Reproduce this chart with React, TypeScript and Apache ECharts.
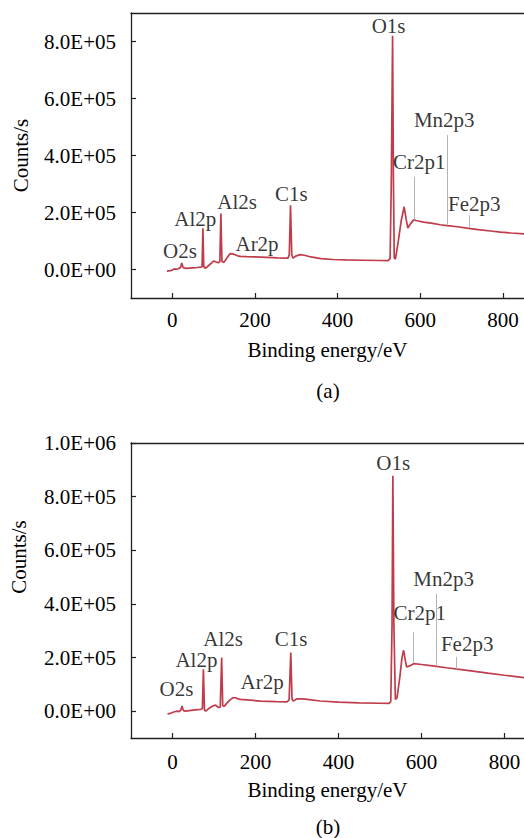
import React, { useEffect, useRef } from "react";
import * as echarts from "echarts";

const FONT = "'Liberation Serif', 'Times New Roman', serif";

const xTicks = [0, 200, 400, 600, 800];
const yTicksA = [0, 2e5, 4e5, 6e5, 8e5];
const yTicksB = [0, 2e5, 4e5, 6e5, 8e5, 1e6];

const spectrumA: [number, number][] = [
  [-13, -6000], [-5, -4000], [0, -2000], [5, 2000], [10, 1000], [15, 2500], [20, 8000],
  [23, 23000], [26, 7000], [32, 4000], [40, 5000], [50, 6000], [60, 7000], [68, 8000],
  [72, 10000], [74, 145000], [76, 11000], [80, 4000], [88, 14000], [96, 24000], [100, 30000],
  [106, 26000], [112, 24000], [115, 28000], [117.5, 196000], [120, 28000], [125, 25000],
  [132, 40000], [140, 56000], [146, 55000], [152, 52000], [158, 48000], [165, 46000],
  [180, 45000], [200, 44000], [229, 42500], [255, 41000], [280, 40000], [283, 52000],
  [286, 225000], [289, 52000], [292, 40000], [300, 48000], [310, 52000], [320, 50000],
  [335, 44000], [360, 38000], [390, 35000], [420, 33500], [460, 32500], [500, 31500],
  [522, 31000], [527, 38000], [530, 320000], [533, 820000], [535, 320000], [537, 40000],
  [540, 37000], [547, 101000], [554, 172000], [561, 220000], [566, 175000], [570, 145000],
  [576, 160000], [584, 174000], [592, 171000], [608, 166000], [630, 162000], [648, 157000],
  [665, 154000], [690, 150000], [713, 145000], [740, 140000], [770, 135000], [794, 131000],
  [820, 128000], [851, 125000],
];

const spectrumB: [number, number][] = [
  [-12, -10000], [-5, -8000], [0, -5000], [5, -2000], [11, 0], [16, -2000], [20, 4000],
  [23, 19000], [26, 3000], [31, 0], [40, 2000], [50, 4000], [60, 6000], [68, 7000],
  [72, 9000], [74.5, 156000], [77, 5000], [80, 0], [86, 8000], [92, 15000], [98, 20000],
  [104, 22500], [110, 14000], [115, 15000], [118.5, 200000], [121, 20000], [125, 19000],
  [132, 32000], [140, 44000], [146, 50000], [152, 50000], [158, 46000], [164, 44000],
  [180, 42000], [212, 37500], [250, 36000], [276, 35000], [281, 42000], [285, 219000],
  [288, 45000], [291, 37500], [300, 46000], [312, 46000], [325, 44000], [356, 38000],
  [400, 34000], [450, 31000], [500, 29500], [522, 29000], [526, 36000], [529, 320000],
  [531, 877500], [533.5, 320000], [537, 44000], [541, 50000], [548, 130000], [553, 200000],
  [557, 227000], [561, 190000], [564, 165000], [570, 168000], [581, 177000], [600, 174000],
  [627, 169000], [660, 162000], [710, 152500], [760, 142000], [800, 134000], [847, 125000],
];

const peakNames = ["O2s", "Al2p", "Al2s", "Ar2p", "C1s", "O1s", "Cr2p1", "Mn2p3", "Fe2p3"];
const labelPosA: [number, number][] = [
  [18.6, 66000], [55.6, 178000], [157, 238000], [205, 89800], [288, 266500],
  [523.3, 855000], [597.6, 378000], [658, 525500], [730.7, 231000],
];
const labelPosB: [number, number][] = [
  [9.6, 81000], [57.6, 191000], [122, 270000], [216, 110000], [286, 269000],
  [532, 927000], [596, 365000], [653.5, 494000], [710, 250000],
];

// [energy, lower count, upper count] for the grey marker lines (Cr2p1, Mn2p3, Fe2p3)
const markersA: [number, number, number][] = [
  [586, 174000, 325000], [666, 157000, 472000], [718, 147000, 190000],
];
const markersB: [number, number, number][] = [
  [581, 181000, 294000], [635, 169000, 437500], [683, 156000, 202500],
];

function sci(v: number): string {
  if (v === 0) return "0.0E+00";
  const e = Math.floor(Math.log10(Math.abs(v)) + 1e-9);
  const m = v / Math.pow(10, e);
  return `${m.toFixed(1)}E+${String(e).padStart(2, "0")}`;
}

const axisColor = "#222";
const textStyle = { fontFamily: FONT, fontSize: 21, color: "#000" };

function makeX(gridIndex: number, max: number, margin: number) {
  return [
    {
      type: "value",
      gridIndex,
      position: "bottom",
      min: -100,
      max,
      axisLine: { show: true, onZero: false, lineStyle: { color: axisColor, width: 1.3 } },
      axisTick: { show: true, inside: true, length: 5, customValues: xTicks, lineStyle: { color: axisColor, width: 1.2 } },
      axisLabel: { show: true, customValues: xTicks, margin, ...textStyle },
      splitLine: { show: false },
      name: "Binding energy/eV",
      nameLocation: "middle",
      nameGap: 41,
      nameTextStyle: { ...textStyle },
    },
    {
      type: "value",
      gridIndex,
      position: "top",
      min: -100,
      max,
      axisLine: { show: true, onZero: false, lineStyle: { color: axisColor, width: 1.3 } },
      axisTick: { show: false },
      axisLabel: { show: false },
      splitLine: { show: false },
    },
  ];
}

function makeY(gridIndex: number, max: number, ticks: number[], name: string) {
  return {
    type: "value",
    gridIndex,
    min: -1e5,
    max,
    axisLine: { show: true, onZero: false, lineStyle: { color: axisColor, width: 1.3 } },
    axisTick: { show: true, inside: true, length: 5, customValues: ticks, lineStyle: { color: axisColor, width: 1.2 } },
    axisLabel: { show: true, customValues: ticks, margin: 15, formatter: (v: number) => sci(v), ...textStyle },
    splitLine: { show: false },
    name,
    nameLocation: "middle",
    nameGap: 100,
    nameRotate: 90,
    nameTextStyle: { ...textStyle },
  };
}

function seriesFor(idx: number, xIdx: number, spectrum: [number, number][], labels: [number, number][], markers: [number, number, number][]) {
  return [
    {
      type: "line",
      xAxisIndex: xIdx,
      yAxisIndex: idx,
      data: [],
      silent: true,
      z: 1,
      markLine: {
        silent: true,
        symbol: ["none", "none"],
        label: { show: false },
        lineStyle: { color: "#b4b4b4", width: 1, type: "solid" },
        data: markers.map(([x, y0, y1]) => [{ coord: [x, y0] }, { coord: [x, y1] }]),
      },
    },
    {
      type: "line",
      xAxisIndex: xIdx,
      yAxisIndex: idx,
      data: spectrum,
      showSymbol: false,
      symbol: "none",
      silent: true,
      z: 3,
      lineStyle: { color: "#c03c4a", width: 1.7 },
    },
    {
      type: "scatter",
      xAxisIndex: xIdx,
      yAxisIndex: idx,
      symbolSize: 1,
      silent: true,
      z: 4,
      itemStyle: { color: "transparent" },
      data: peakNames.map((n, i) => ({ name: n, value: labels[i] })),
      label: { show: true, position: "inside", formatter: "{b}", ...textStyle },
    },
  ];
}

export default function App() {
  const ref = useRef<HTMLDivElement>(null);
  useEffect(() => {
    if (!ref.current) return;
    const chart = echarts.init(ref.current, undefined, { renderer: "svg" });
    chart.setOption({
      animation: false,
      backgroundColor: "#ffffff",
      grid: [
        { left: 131, top: 13, width: 393, height: 285 },
        { left: 131, top: 443, width: 393, height: 295 },
      ],
      xAxis: [...makeX(0, 851, 11), ...makeX(1, 847, 13)],
      yAxis: [makeY(0, 9e5, yTicksA, "Counts/s"), makeY(1, 1e6, yTicksB, "")],
      series: [...seriesFor(0, 0, spectrumA, labelPosA, markersA), ...seriesFor(1, 2, spectrumB, labelPosB, markersB)],
      graphic: [
        { type: "text", x: 18.5, y: 557, rotation: Math.PI / 2, style: { text: "Counts/s", font: `21px ${FONT}`, fill: "#000", align: "center", verticalAlign: "middle" } },
        { type: "text", x: 328, y: 391, style: { text: "(a)", font: `21px ${FONT}`, fill: "#000", align: "center", verticalAlign: "middle" } },
        { type: "text", x: 328, y: 827, style: { text: "(b)", font: `21px ${FONT}`, fill: "#000", align: "center", verticalAlign: "middle" } },
      ],
    });
    return () => chart.dispose();
  }, []);
  return <div ref={ref} style={{ position: "absolute", left: 0, top: 0, width: 524, height: 838 }} />;
}
